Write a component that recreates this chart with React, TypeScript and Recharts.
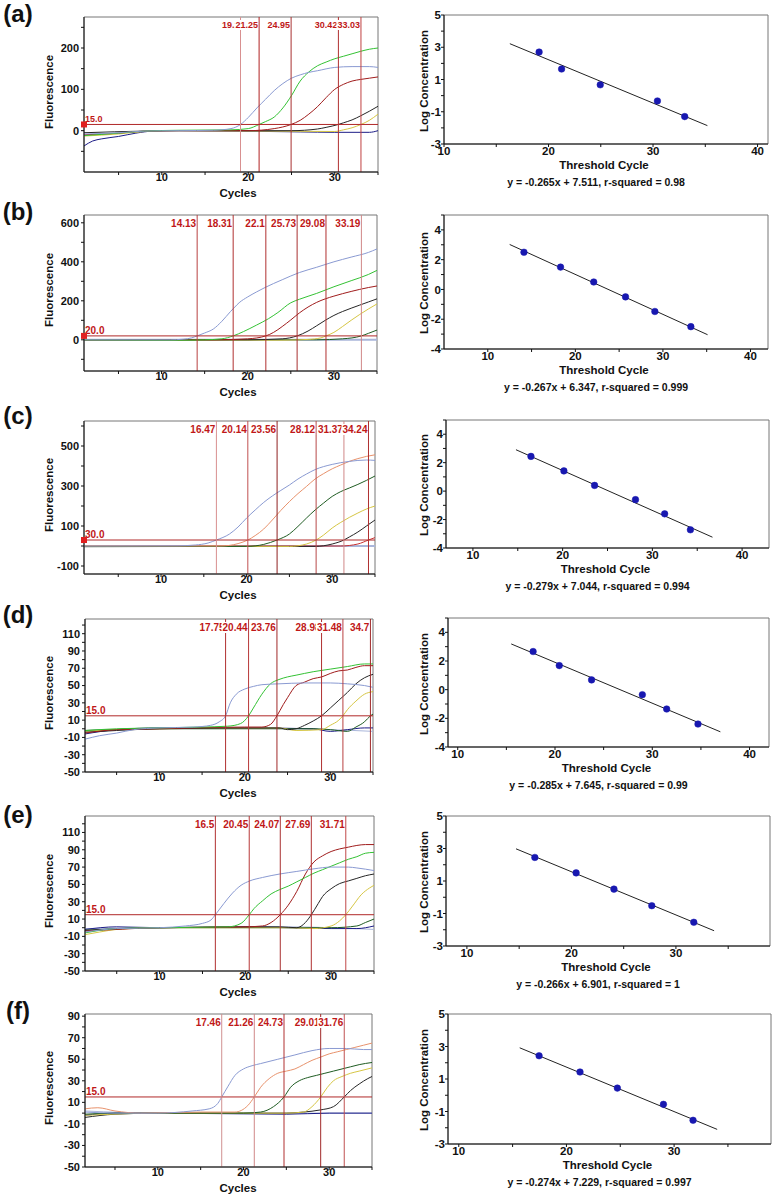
import React from 'react'
import { LineChart, Line, XAxis, YAxis, ReferenceLine, ReferenceArea, ReferenceDot } from 'recharts'

type Pt = [number, number]

const FONT = '"Liberation Sans", Arial, Helvetica, sans-serif'
const LAV = '#8a9ad2'
const GRN = '#34c234'
const DRED = '#a01c1c'
const BLK = '#262626'
const YEL = '#d6c644'
const DGRN = '#1f5c22'
const NAVY = '#1c1c86'
const SALM = '#e8926c'
const PALE = '#aab6da'

// ---- shared ticks ----
const ampXTicks = [5, 10, 15, 20, 25, 30, 35]
const ampXLabels = [10, 20, 30]
const stdXTicksWide = [10, 15, 20, 25, 30, 35, 40]
const stdXLabelsWide = [10, 20, 30, 40]
const stdXTicksNarrow = [10, 15, 20, 25, 30, 35]
const stdXLabelsNarrow = [10, 20, 30]
const stdYTicksOdd = [-3, -2, -1, 0, 1, 2, 3, 4, 5]
const stdYLabelsOdd = [-3, -1, 1, 3, 5]
const stdYTicksEven = [-4, -3, -2, -1, 0, 1, 2, 3, 4, 5]
const stdYLabelsEven = [-4, -2, 0, 2, 4]

// ---- (a) ----
const aYTicks = [-50, 0, 50, 100, 150, 200, 250]
const aYLabels = [0, 100, 200]
const aLavender: Pt[] = [[1, -8], [5, -5], [8, -1], [12, 0], [16, 1], [18, 5], [19.1, 15], [20, 32], [21, 55], [22, 76], [23, 97], [24, 114], [25, 127], [26, 135], [27, 141], [28, 145], [30, 153], [32, 155], [34, 155], [35, 153]]
const aGreen: Pt[] = [[1, -12], [5, -6], [8, -1], [12, 1], [18, 2], [20, 5], [21.25, 15], [22, 22], [23, 33], [24, 55], [25, 85], [26, 120], [27, 142], [28, 157], [29, 166], [30, 174], [31, 180], [32, 186], [33, 192], [34, 197], [35, 200]]
const aDRed: Pt[] = [[1, -10], [5, -6], [8, -1], [12, 0], [20, 0], [23, 5], [24.95, 15], [26, 25], [27, 40], [28, 58], [29, 80], [30, 100], [31, 112], [32, 120], [33, 124], [34, 127], [35, 130]]
const aBlack: Pt[] = [[1, -5], [8, -1], [12, 0], [25, 0], [28, 4], [29, 8], [30.42, 15], [31, 19], [32, 26], [33, 36], [34, 47], [35, 59]]
const aYellow: Pt[] = [[1, -13], [5, -8], [8, -2], [12, 0], [30, -2], [31, 2], [32, 7], [33.03, 15], [34, 25], [35, 40]]
const aNavy: Pt[] = [[1, -37], [2, -25], [3, -20], [5, -14], [7, -6], [9, -1], [12, 0], [26, -3], [30, -4], [34, -4], [35, 0]]
const aCt = [19.1, 21.25, 24.95, 30.42, 33.03]
const aCtText = ['19.1', '21.25', '24.95', '30.42', '33.03']
const aCtColors = ['#d89090', '#b02020', '#a83030', '#b03030', '#c04040']
const aLogConc = [2.7, 1.65, 0.67, -0.33, -1.3]
const aFit: Pt[] = [[16.3, 3.22], [35.2, -1.86]]

// ---- (b) ----
const bYTicks = [-100, 0, 100, 200, 300, 400, 500, 600]
const bYLabels = [0, 200, 400, 600]
const bLavender: Pt[] = [[1, 0], [11, 0], [12.5, 3], [13.5, 10], [14.13, 20], [15, 35], [16, 55], [17, 95], [18, 145], [18.5, 168], [19, 190], [20, 220], [21, 245], [22, 268], [24, 308], [26, 345], [28, 372], [30, 400], [32, 424], [34, 448], [35, 466]]
const bGreen: Pt[] = [[1, 0], [12, -2], [15, 0], [17, 5], [18.31, 20], [19.5, 42], [21, 75], [22.4, 108], [23.5, 140], [25, 190], [26, 208], [28, 238], [30, 272], [32, 303], [34, 335], [35, 356]]
const bDRed: Pt[] = [[1, 0], [16, 0], [20, 5], [22.1, 20], [23, 38], [24, 68], [25, 102], [26, 138], [27, 168], [28, 192], [29, 210], [30, 224], [32, 248], [34, 268], [35, 276]]
const bBlack: Pt[] = [[1, 0], [20, 0], [24, 5], [25.73, 20], [27, 45], [28, 72], [29, 100], [30, 125], [31, 145], [32, 162], [33, 178], [34, 194], [35, 210]]
const bYellow: Pt[] = [[1, 0], [24, -2], [27, 2], [28.5, 10], [29.08, 20], [30, 38], [31, 68], [32, 100], [33, 130], [34, 158], [35, 184]]
const bDGreen: Pt[] = [[1, 0], [28, 0], [31, 5], [33.19, 20], [34, 33], [35, 50]]
const bBase: Pt[] = [[1, 0], [35, 0]]
const bCt = [14.13, 18.31, 22.1, 25.73, 29.08, 33.19]
const bCtText = ['14.13', '18.31', '22.1', '25.73', '29.08', '33.19']
const bCtColors = ['#b84040', '#b03030', '#b03030', '#a83030', '#b03030', '#d08888']
const bLogConc = [2.5, 1.5, 0.5, -0.5, -1.48, -2.5]
const bFit: Pt[] = [[12.5, 3.02], [35.1, -3.04]]

// ---- (c) ----
const cYTicks = [-100, 0, 100, 200, 300, 400, 500, 600]
const cYLabels = [-100, 100, 300, 500]
const cLavender: Pt[] = [[1, 0], [12, 1], [14, 5], [15.5, 15], [16.47, 30], [18, 60], [19, 95], [20, 140], [21, 180], [22, 218], [23, 250], [24, 278], [25, 305], [26, 335], [27, 360], [28, 382], [30, 408], [32, 423], [34, 430], [35, 428]]
const cSalmon: Pt[] = [[1, 0], [17, 0], [19, 12], [20.14, 30], [21, 52], [22, 85], [23, 130], [24, 178], [25, 222], [26, 262], [27, 298], [28, 335], [29, 362], [30, 386], [31, 405], [32, 423], [33, 437], [34, 448], [35, 456]]
const cDGreen: Pt[] = [[1, -3], [20, -2], [22, 8], [23.56, 30], [25, 60], [26, 98], [27, 140], [28, 180], [29, 215], [30, 248], [31, 272], [32, 290], [33, 308], [34, 328], [35, 350]]
const cYellow: Pt[] = [[1, 0], [25, -2], [27, 10], [28.12, 30], [29, 55], [30, 90], [31, 118], [32, 143], [33, 165], [34, 185], [35, 200]]
const cBlack: Pt[] = [[1, -3], [28, -2], [30, 10], [31.37, 30], [32, 45], [33, 70], [34, 100], [35, 130]]
const cRed: Pt[] = [[1, 0], [31, 0], [33, 10], [34.24, 30], [35, 42]]
const cBase: Pt[] = [[1, 0], [35, 0]]
const cCt = [16.47, 20.14, 23.56, 28.12, 31.37, 34.24]
const cCtText = ['16.47', '20.14', '23.56', '28.12', '31.37', '34.24']
const cCtColors = ['#d89090', '#c05050', '#902020', '#b84848', '#d08888', '#b03030']
const cLogConc = [2.44, 1.42, 0.4, -0.6, -1.6, -2.72]
const cFit: Pt[] = [[14.8, 2.91], [36.7, -3.24]]

// ---- (d) ----
const dYTicks = [-50, -40, -30, -20, -10, 0, 10, 20, 30, 40, 50, 60, 70, 80, 90, 100, 110, 120]
const dYLabels = [-50, -30, -10, 10, 30, 50, 70, 90, 110]
const dLavender: Pt[] = [[1.3, -12], [3, -8], [5, -5], [7, -1], [10, 1], [14, 2], [16, 4], [17, 8], [17.75, 15], [18.3, 30], [19, 40], [20, 46], [21, 49], [22, 51], [24, 52], [27, 53], [30, 53], [32, 52], [34, 50], [35, 48]]
const dGreen: Pt[] = [[1.3, -2], [5, 0], [10, 1], [15, 2], [18, 3], [19.5, 6], [20.44, 15], [21, 24], [22, 40], [23, 52], [24, 57], [25, 60], [26, 62], [28, 66], [30, 69], [32, 72], [34, 75], [35, 75]]
const dDRed: Pt[] = [[1.3, -5], [5, -1], [10, 0], [20, 2], [22, 2], [23, 5], [23.76, 15], [24.5, 28], [25, 36], [26, 50], [27, 54], [28, 58], [29, 60], [30, 64], [31, 67], [32, 68], [33, 71], [34, 73], [35, 73]]
const dBlack: Pt[] = [[1.3, -4], [5, -2], [10, 0], [24, 1], [25, -1], [26, 0], [27, 4], [28, 9], [28.98, 15], [30, 24], [31, 33], [32, 42], [33, 52], [34, 59], [35, 63]]
const dYellow: Pt[] = [[1.3, -3], [5, -1], [10, 0], [24, 1], [26, -2], [29, -1], [30, 4], [31, 10], [31.48, 15], [32, 22], [33, 32], [34, 40], [35, 43]]
const dDGreen: Pt[] = [[1.3, -2], [10, 0], [28, 0], [30, -1], [32, -3], [33, 2], [34, 8], [34.7, 15], [35, 17]]
const dNavy: Pt[] = [[1.3, -6], [5, -1], [10, 1], [20, 1], [28, 0], [30, -3], [32, -1], [34, 1], [35, 1]]
const dPale: Pt[] = [[1.3, -2], [15, 1], [30, -1], [35, -3]]
const dCt = [17.75, 20.44, 23.76, 28.98, 31.48, 34.7]
const dCtText = ['17.75', '20.44', '23.76', '28.98', '31.48', '34.7']
const dCtColors = ['#b03030', '#b83838', '#a02828', '#b03030', '#b84040', '#a02828']
const dLogConc = [2.66, 1.68, 0.68, -0.35, -1.35, -2.4]
const dFit: Pt[] = [[15.5, 3.19], [37, -2.94]]

// ---- (e) ----
const eYTicks = [-50, -40, -30, -20, -10, 0, 10, 20, 30, 40, 50, 60, 70, 80, 90, 100, 110, 120]
const eYLabels = [-50, -30, -10, 10, 30, 50, 70, 90, 110]
const eLavender: Pt[] = [[1.3, -5], [5, -1], [10, 0], [13, 2], [15, 5], [16, 9], [16.5, 15], [17.5, 28], [18.5, 40], [19.5, 49], [20.5, 54], [22, 58], [24, 62], [26, 65], [28, 68], [30, 70], [32, 70], [33, 69], [35, 66]]
const eGreen: Pt[] = [[1.3, -6], [5, -1], [10, 0], [18, 1], [19.5, 5], [20.45, 15], [21, 22], [22, 31], [23, 39], [24, 44], [25, 48], [26, 53], [27, 58], [28, 63], [29, 67], [30, 71], [31, 75], [32, 79], [33, 82], [34, 86], [35, 87]]
const eDRed: Pt[] = [[1.3, -4], [10, 0], [20, 1], [22, 2], [23, 6], [24.07, 15], [25, 26], [26, 42], [27, 62], [28, 76], [29, 83], [30, 88], [31, 91], [32, 93], [33, 95], [34, 96], [35, 96]]
const eBlack: Pt[] = [[1.3, -3], [10, 0], [24, 1], [26, 0], [27, 6], [27.69, 15], [28.5, 28], [29, 36], [30, 45], [31, 51], [32, 54], [33, 57], [34, 60], [35, 62]]
const eYellow: Pt[] = [[1.3, -8], [3, -5], [5, -2], [10, 0], [25, 0], [28, -1], [30, 2], [31, 8], [31.71, 15], [32.5, 25], [33.5, 38], [34.5, 46], [35, 49]]
const eDGreen: Pt[] = [[1.3, -3], [10, 0], [30, 0], [33, 2], [34, 6], [35, 10]]
const eNavy: Pt[] = [[1.3, -2], [5, 1], [10, 0], [20, 1], [30, -1], [33, -1], [35, 2]]
const ePale: Pt[] = [[1.3, -1], [10, 0], [25, 1], [30, 0], [35, -2]]
const eCt = [16.5, 20.45, 24.07, 27.69, 31.71]
const eCtText = ['16.5', '20.45', '24.07', '27.69', '31.71']
const eCtColors = ['#b03030', '#b83838', '#a83030', '#b03030', '#c04848']
const eLogConc = [2.45, 1.5, 0.5, -0.52, -1.54]
const eFit: Pt[] = [[14.7, 2.98], [33.65, -2.06]]

// ---- (f) ----
const fYTicks = [-50, -40, -30, -20, -10, 0, 10, 20, 30, 40, 50, 60, 70, 80, 90]
const fYLabels = [-50, -30, -10, 10, 30, 50, 70, 90]
const fLavender: Pt[] = [[1.5, 1], [5, 0], [10, 0], [14, 2], [16, 4], [17, 9], [17.46, 15], [18.2, 25], [19, 35], [20, 41], [21, 44], [22, 46], [24, 50], [26, 54], [28, 58], [30, 60], [32, 60], [34, 59], [35, 59]]
const fSalmon: Pt[] = [[1.5, 4], [3, 5], [5, 2], [8, 0], [15, 1], [19, 1], [20.5, 7], [21.26, 15], [22, 24], [23, 32], [24, 37], [25, 39], [26, 41], [27, 45], [28, 49], [29, 52], [30, 55], [31, 57], [32, 59], [33, 61], [34, 63], [35, 65]]
const fDGreen: Pt[] = [[1.5, -1], [5, 0], [10, 0], [20, 0], [22, 1], [23.5, 6], [24.73, 15], [25.5, 24], [26.5, 30], [27.5, 33], [28.5, 35], [29.5, 37], [30.5, 39], [31.5, 41], [32.5, 43], [33.5, 45], [35, 47]]
const fYellow: Pt[] = [[1.5, -2], [10, 0], [25, 0], [27, 1], [28, 6], [29.01, 15], [29.8, 24], [30.5, 30], [31.5, 34], [32.5, 37], [33.5, 39], [35, 42]]
const fBlack: Pt[] = [[1.5, -4], [5, -1], [10, 0], [25, 0], [27, 1], [29, 3], [30.5, 6], [31.76, 15], [32.5, 21], [33.5, 27], [34.5, 32], [35, 34]]
const fNavy: Pt[] = [[1.5, -2], [5, 0], [10, 0], [25, -1], [30, 0], [35, 0]]
const fPale: Pt[] = [[1.5, 2], [10, 0], [30, 0], [35, 0]]
const fCt = [17.46, 21.26, 24.73, 29.01, 31.76]
const fCtText = ['17.46', '21.26', '24.73', '29.01', '31.76']
const fCtColors = ['#d09090', '#d08888', '#b03030', '#a02828', '#c05050']
const fLogConc = [2.43, 1.43, 0.44, -0.56, -1.54]
const fFit: Pt[] = [[15.66, 2.92], [34, -2.1]]

interface Curve { pts: Pt[]; color: string; width?: number }
interface AmpCfg {
  box: [number, number, number, number]
  xMin: number
  yDomain: [number, number]
  yTicks: number[]
  yLabels: number[]
  curves: Curve[]
  thr: number
  thrText: string
  cts: number[]
  ctText: string[]
  ctColors: string[]
  labelSize: number
  marker: boolean
}
interface StdCfg {
  box: [number, number, number, number]
  xDomain: [number, number]
  xTicks: number[]
  xLabels: number[]
  yDomain: [number, number]
  yTicks: number[]
  yLabels: number[]
  cts: number[]
  logConc: number[]
  fit: Pt[]
  equation: string
}

const toRows = (pts: Pt[]) => pts.map(([x, y]) => ({ x, y }))
const fmt = (labels: number[]) => (v: number) => (labels.includes(v) ? String(v) : '')
const tickFont = (size: number) => ({ fontSize: size, fontWeight: 'bold' as const, fill: '#111', fontFamily: FONT })

const ampPanels: AmpCfg[] = [
  {
    box: [84, 378, 17, 172], xMin: 1, yDomain: [-100, 275], yTicks: aYTicks, yLabels: aYLabels,
    curves: [
      { pts: aNavy, color: NAVY }, { pts: aYellow, color: YEL }, { pts: aBlack, color: BLK },
      { pts: aDRed, color: DRED }, { pts: aGreen, color: GRN }, { pts: aLavender, color: LAV },
    ],
    thr: 15, thrText: '15.0', cts: aCt, ctText: aCtText, ctColors: aCtColors, labelSize: 9, marker: true,
  },
  {
    box: [84, 377, 215, 371], xMin: 1, yDomain: [-160, 640], yTicks: bYTicks, yLabels: bYLabels,
    curves: [
      { pts: bBase, color: PALE, width: 2 }, { pts: bDGreen, color: DGRN }, { pts: bYellow, color: YEL },
      { pts: bBlack, color: BLK }, { pts: bDRed, color: DRED }, { pts: bGreen, color: GRN }, { pts: bLavender, color: LAV },
    ],
    thr: 20, thrText: '20.0', cts: bCt, ctText: bCtText, ctColors: bCtColors, labelSize: 10, marker: true,
  },
  {
    box: [84, 375, 421, 574], xMin: 1, yDomain: [-140, 625], yTicks: cYTicks, yLabels: cYLabels,
    curves: [
      { pts: cBase, color: PALE, width: 2 }, { pts: cRed, color: '#c83030' }, { pts: cBlack, color: BLK },
      { pts: cYellow, color: YEL }, { pts: cDGreen, color: DGRN }, { pts: cSalmon, color: SALM }, { pts: cLavender, color: LAV },
    ],
    thr: 30, thrText: '30.0', cts: cCt, ctText: cCtText, ctColors: cCtColors, labelSize: 10, marker: true,
  },
  {
    box: [85, 373, 619, 772], xMin: 1.3, yDomain: [-50, 127], yTicks: dYTicks, yLabels: dYLabels,
    curves: [
      { pts: dPale, color: PALE }, { pts: dNavy, color: NAVY }, { pts: dDGreen, color: DGRN }, { pts: dYellow, color: YEL },
      { pts: dBlack, color: BLK }, { pts: dDRed, color: DRED }, { pts: dGreen, color: GRN }, { pts: dLavender, color: LAV },
    ],
    thr: 15, thrText: '15.0', cts: dCt, ctText: dCtText, ctColors: dCtColors, labelSize: 10, marker: false,
  },
  {
    box: [85, 374, 816, 971], xMin: 1.3, yDomain: [-50, 129], yTicks: eYTicks, yLabels: eYLabels,
    curves: [
      { pts: ePale, color: PALE }, { pts: eNavy, color: NAVY }, { pts: eDGreen, color: DGRN }, { pts: eYellow, color: YEL },
      { pts: eBlack, color: BLK }, { pts: eDRed, color: DRED }, { pts: eGreen, color: GRN }, { pts: eLavender, color: LAV },
    ],
    thr: 15, thrText: '15.0', cts: eCt, ctText: eCtText, ctColors: eCtColors, labelSize: 10, marker: false,
  },
  {
    box: [85, 372, 1014, 1167], xMin: 1.5, yDomain: [-50, 92], yTicks: fYTicks, yLabels: fYLabels,
    curves: [
      { pts: fPale, color: PALE }, { pts: fNavy, color: NAVY }, { pts: fBlack, color: BLK }, { pts: fYellow, color: YEL },
      { pts: fDGreen, color: DGRN }, { pts: fSalmon, color: SALM }, { pts: fLavender, color: LAV },
    ],
    thr: 15, thrText: '15.0', cts: fCt, ctText: fCtText, ctColors: fCtColors, labelSize: 10, marker: false,
  },
]

const stdPanels: StdCfg[] = [
  { box: [444, 768, 15, 144], xDomain: [10, 41], xTicks: stdXTicksWide, xLabels: stdXLabelsWide, yDomain: [-3, 5], yTicks: stdYTicksOdd, yLabels: stdYLabelsOdd, cts: aCt, logConc: aLogConc, fit: aFit, equation: 'y = -0.265x + 7.511, r-squared = 0.98' },
  { box: [444, 768, 215, 349], xDomain: [5, 42], xTicks: stdXTicksWide, xLabels: stdXLabelsWide, yDomain: [-4, 5], yTicks: stdYTicksEven, yLabels: stdYLabelsEven, cts: bCt, logConc: bLogConc, fit: bFit, equation: 'y = -0.267x + 6.347, r-squared = 0.999' },
  { box: [446, 769, 420, 548], xDomain: [7, 43], xTicks: stdXTicksWide, xLabels: stdXLabelsWide, yDomain: [-4, 5], yTicks: stdYTicksEven, yLabels: stdYLabelsEven, cts: cCt, logConc: cLogConc, fit: cFit, equation: 'y = -0.279x + 7.044, r-squared = 0.994' },
  { box: [448, 769, 618, 747], xDomain: [9, 42], xTicks: stdXTicksWide, xLabels: stdXLabelsWide, yDomain: [-4, 5], yTicks: stdYTicksEven, yLabels: stdYLabelsEven, cts: dCt, logConc: dLogConc, fit: dFit, equation: 'y = -0.285x + 7.645, r-squared = 0.99' },
  { box: [446, 770, 816, 946], xDomain: [8, 39], xTicks: stdXTicksNarrow, xLabels: stdXLabelsNarrow, yDomain: [-3, 5], yTicks: stdYTicksOdd, yLabels: stdYLabelsOdd, cts: eCt, logConc: eLogConc, fit: eFit, equation: 'y = -0.266x + 6.901, r-squared = 1' },
  { box: [448, 771, 1014, 1144], xDomain: [9, 39], xTicks: stdXTicksNarrow, xLabels: stdXLabelsNarrow, yDomain: [-3, 5], yTicks: stdYTicksOdd, yLabels: stdYLabelsOdd, cts: fCt, logConc: fLogConc, fit: fFit, equation: 'y = -0.274x + 7.229, r-squared = 0.997' },
]

const panelLetters = ['(a)', '(b)', '(c)', '(d)', '(e)', '(f)']
const letterY = [14, 212, 416, 615, 815, 1011]

function Txt({ x, y, size, rotate, children }: { x: number; y: number; size: number; rotate?: boolean; children: React.ReactNode }) {
  return (
    <div
      style={{
        position: 'absolute', left: x, top: y, whiteSpace: 'nowrap', lineHeight: 1,
        fontFamily: FONT, fontWeight: 'bold', fontSize: size, color: '#111',
        transform: `translate(-50%, -50%)${rotate ? ' rotate(-90deg)' : ''}`,
      }}
    >
      {children}
    </div>
  )
}

// Ct labels sit on a white backing, so a later label hides the tail of an earlier one, as in the plots
function ctLabel(vb: any, text: string, size: number) {
  const w = text.length * size * 0.5 + 1
  return (
    <g>
      <rect x={vb.x - 1 - w} y={vb.y + 3} width={w} height={size + 1} fill="#fff" />
      <text x={vb.x - 1} y={vb.y + 4 + size * 0.75} textAnchor="end" fill="#c01818" fontSize={size}
        fontWeight="bold" fontFamily={FONT}>{text}</text>
    </g>
  )
}

function AmpPanel({ p }: { p: AmpCfg }) {
  const [L, R, T, B] = p.box
  return (
    <>
      <div style={{ position: 'absolute', left: 0, top: T - 10 }}>
        <LineChart width={R + 6} height={B - T + 32} margin={{ top: 10, right: 6, left: 0, bottom: 0 }}>
          <XAxis dataKey="x" type="number" domain={[p.xMin, 35]} ticks={ampXTicks} interval={0} allowDataOverflow
            height={22} tickSize={3} tickMargin={-2} tickFormatter={fmt(ampXLabels)} tick={tickFont(11)}
            axisLine={{ stroke: '#111' }} tickLine={{ stroke: '#111' }} />
          <YAxis type="number" domain={p.yDomain} ticks={p.yTicks} interval={0} allowDataOverflow
            width={L} tickSize={3} tickMargin={2} tickFormatter={fmt(p.yLabels)} tick={tickFont(11)}
            axisLine={{ stroke: '#111' }} tickLine={{ stroke: '#111' }} />
          <ReferenceArea x1={p.xMin} x2={35} y1={p.yDomain[0]} y2={p.yDomain[1]} fill="none" stroke="#777" />
          {p.curves.map((c, i) => (
            <Line key={i} data={toRows(c.pts)} dataKey="y" type="monotone" stroke={c.color}
              strokeWidth={c.width ?? 1} dot={false} isAnimationActive={false} />
          ))}
          <ReferenceLine y={p.thr} stroke="#b02828"
            label={(lp: any) => (
              <text x={lp.viewBox.x + 1} y={lp.viewBox.y - 2} fill="#c01818" fontSize={p.labelSize}
                fontWeight="bold" fontFamily={FONT}>{p.thrText}</text>
            )} />
          {p.cts.map((ct, i) => (
            <ReferenceLine key={i} x={ct} stroke={p.ctColors[i]}
              label={(lp: any) => ctLabel(lp.viewBox, p.ctText[i], p.labelSize)} />
          ))}
          {p.marker && (
            <ReferenceDot x={p.xMin} y={p.thr} r={3} ifOverflow="visible"
              shape={(d: any) => <rect x={d.cx - 3} y={d.cy - 3} width={6} height={6} fill="#e02020" />} />
          )}
        </LineChart>
      </div>
      <Txt x={50} y={(T + B) / 2 - 3} size={11.5} rotate>Fluorescence</Txt>
      <Txt x={238} y={B + 22} size={11.5}>Cycles</Txt>
    </>
  )
}

function StdPanel({ p }: { p: StdCfg }) {
  const [L, R, T, B] = p.box
  const points = p.cts.map((x, i) => ({ x, y: p.logConc[i] }))
  return (
    <>
      <div style={{ position: 'absolute', left: 400, top: T - 10 }}>
        <LineChart width={R - 400 + 6} height={B - T + 26} margin={{ top: 10, right: 6, left: 0, bottom: 0 }}>
          <XAxis dataKey="x" type="number" domain={p.xDomain} ticks={p.xTicks} interval={0} allowDataOverflow
            height={16} tickSize={3} tickMargin={0} tickFormatter={fmt(p.xLabels)} tick={tickFont(11.5)}
            axisLine={{ stroke: '#111' }} tickLine={{ stroke: '#111' }} />
          <YAxis type="number" domain={p.yDomain} ticks={p.yTicks} interval={0} allowDataOverflow
            width={L - 400} tickSize={3} tickMargin={0} tickFormatter={fmt(p.yLabels)} tick={tickFont(11.5)}
            axisLine={{ stroke: '#111' }} tickLine={{ stroke: '#111' }} />
          <ReferenceArea x1={p.xDomain[0]} x2={p.xDomain[1]} y1={p.yDomain[0]} y2={p.yDomain[1]} fill="none" stroke="#777" />
          <Line data={toRows(p.fit)} dataKey="y" type="linear" stroke="#222" strokeWidth={1} dot={false} isAnimationActive={false} />
          <Line data={points} dataKey="y" type="linear" stroke="none" isAnimationActive={false}
            dot={{ r: 3.3, fill: '#1818b0', stroke: '#1818b0', strokeWidth: 0.5 }} />
        </LineChart>
      </div>
      <Txt x={425} y={(T + B) / 2 + 1} size={11.5} rotate>Log Concentration</Txt>
      <Txt x={(L + R) / 2 - 2} y={B + 22} size={11.5}>Threshold Cycle</Txt>
      <Txt x={(L + R) / 2 - 10} y={B + 38} size={10.5}>{p.equation}</Txt>
    </>
  )
}

export default function App() {
  return (
    <div style={{ position: 'absolute', left: 0, top: 0, width: 774, height: 1200, background: '#fff', overflow: 'hidden' }}>
      {ampPanels.map((p, i) => <AmpPanel key={`a${i}`} p={p} />)}
      {stdPanels.map((p, i) => <StdPanel key={`s${i}`} p={p} />)}
      {panelLetters.map((t, i) => (
        <Txt key={t} x={18} y={letterY[i]} size={24}>{t}</Txt>
      ))}
    </div>
  )
}
